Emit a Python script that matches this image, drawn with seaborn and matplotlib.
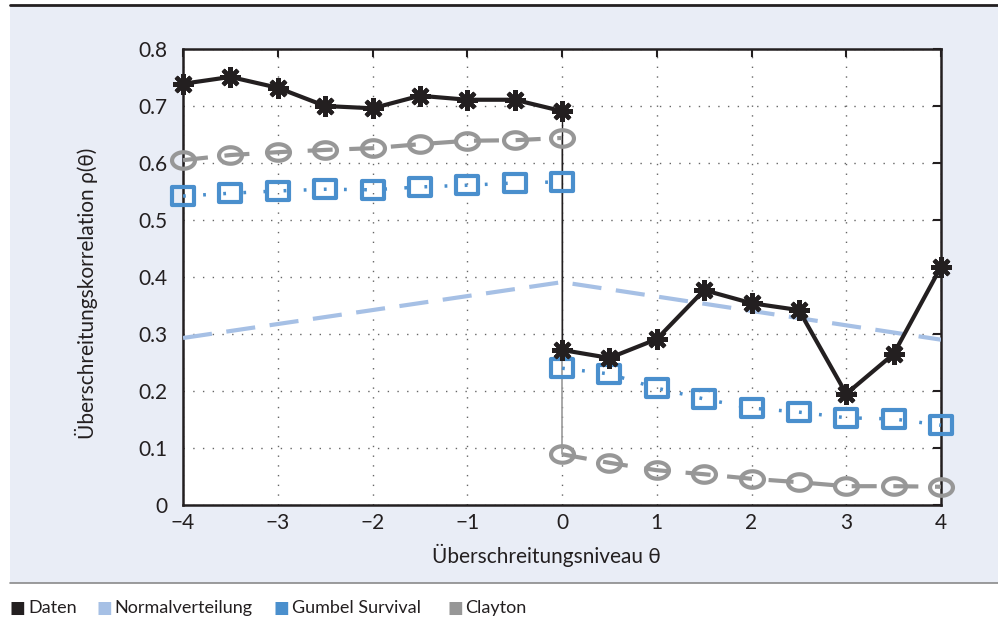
import numpy as np
import pandas as pd
import seaborn as sns
import matplotlib.pyplot as plt
from matplotlib.path import Path
from matplotlib.patches import Rectangle
from matplotlib.lines import Line2D

# threshold levels, left branch (<=0) and right branch (>=0)
theta_left = [-4, -3.5, -3, -2.5, -2, -1.5, -1, -0.5, 0]
theta_right = [0, 0.5, 1, 1.5, 2, 2.5, 3, 3.5, 4]

daten_left = [0.739, 0.751, 0.732, 0.700, 0.696, 0.718, 0.711, 0.711, 0.691]
daten_right = [0.272, 0.258, 0.291, 0.377, 0.354, 0.342, 0.195, 0.265, 0.418]

gumbel_left = [0.542, 0.547, 0.551, 0.554, 0.553, 0.558, 0.561, 0.565, 0.567]
gumbel_right = [0.240, 0.230, 0.205, 0.186, 0.170, 0.163, 0.153, 0.151, 0.140]

clayton_left = [0.605, 0.614, 0.619, 0.623, 0.626, 0.633, 0.639, 0.640, 0.644]
clayton_right = [0.089, 0.074, 0.061, 0.054, 0.046, 0.040, 0.033, 0.033, 0.032]

normal_theta = [-4, 0, 4]
normal_vals = [0.293, 0.391, 0.290]

series_names = ["Daten", "Normalverteilung", "Gumbel Survival", "Clayton"]
colors = {"Daten": "#231f20", "Normalverteilung": "#a6c0e5",
          "Gumbel Survival": "#4a8fcd", "Clayton": "#979797"}

sns.set_style("white")
plt.rcParams['font.family'] = ['Lato', 'DejaVu Sans']

fig = plt.figure(figsize=(9.98, 6.22), dpi=100)

# light panel with rules
fig.patches.append(Rectangle((0.010, 0.0627), 0.99, 0.929, transform=fig.transFigure,
                             facecolor="#e9edf6", edgecolor="none", zorder=-10))
fig.add_artist(Line2D([0.010, 1.0], [0.992, 0.992], transform=fig.transFigure,
                      color="#231f20", lw=2))
fig.add_artist(Line2D([0.010, 1.0], [0.0627, 0.0627], transform=fig.transFigure,
                      color="#8a8a8a", lw=1.2))

ax = fig.add_axes([0.1834, 0.1881, 0.7595, 0.7331])
ax.set_facecolor("white")

# elliptical / rectangular hollow markers
t = np.linspace(0, 2 * np.pi, 60)
ellipse = Path(np.column_stack([np.cos(t), 0.72 * np.sin(t)]), closed=True)
rect = Path([(-1, -0.8), (1, -0.8), (1, 0.8), (-1, 0.8), (-1, -0.8)], closed=True)

# thin vertical jumps at theta = 0
ax.plot([0, 0], [clayton_left[-1], clayton_right[0]], color="#9a9a9a", lw=1.2, zorder=2)
ax.plot([0, 0], [daten_left[-1], daten_right[0]], color="#231f20", lw=1.0, zorder=2)

df_norm = pd.DataFrame({"theta": normal_theta, "rho": normal_vals})
sns.lineplot(data=df_norm, x="theta", y="rho", ax=ax, color=colors["Normalverteilung"],
             lw=3, zorder=3)
ax.lines[-1].set_dashes([7, 3.5])

for th, vals in [(theta_left, clayton_left), (theta_right, clayton_right)]:
    d = pd.DataFrame({"theta": th, "rho": vals})
    sns.lineplot(data=d, x="theta", y="rho", ax=ax, color=colors["Clayton"], lw=3,
                 marker=ellipse, markersize=16.5, markerfacecolor="none",
                 markeredgecolor=colors["Clayton"], markeredgewidth=3, zorder=4,
                 clip_on=False)
    ax.lines[-1].set_dashes([6, 4])

for th, vals in [(theta_left, gumbel_left), (theta_right, gumbel_right)]:
    d = pd.DataFrame({"theta": th, "rho": vals})
    sns.lineplot(data=d, x="theta", y="rho", ax=ax, color=colors["Gumbel Survival"], lw=2.5,
                 marker=rect, markersize=15.5, markerfacecolor="none",
                 markeredgecolor=colors["Gumbel Survival"], markeredgewidth=3, zorder=5,
                 clip_on=False)
    ax.lines[-1].set_dashes([0.8, 5])

for th, vals in [(theta_left, daten_left), (theta_right, daten_right)]:
    d = pd.DataFrame({"theta": th, "rho": vals})
    sns.lineplot(data=d, x="theta", y="rho", ax=ax, color=colors["Daten"], lw=3,
                 marker=(8, 2, 0), markersize=15, markeredgecolor=colors["Daten"],
                 markeredgewidth=3, zorder=6, clip_on=False)

ax.set_xlim(-4, 4)
ax.set_ylim(0, 0.8)
ax.set_xticks(range(-4, 5))
ax.set_xticklabels([str(v).replace("-", "\u2212") for v in range(-4, 5)])
ax.set_yticks(np.arange(0, 0.81, 0.1))
ax.set_yticklabels(["0"] + [f"{v:.1f}" for v in np.arange(0.1, 0.81, 0.1)])
ax.grid(True, color="#666666", linestyle=(0, (1, 6)), lw=1.0)
ax.tick_params(direction="in", length=6, width=1.5, labelsize=15, colors="#231f20",
               right=True, top=True)
ax.tick_params(axis="y", pad=11)
ax.tick_params(axis="x", pad=6)
for s in ax.spines.values():
    s.set_visible(True)
    s.set_color("#231f20")
    s.set_linewidth(1.8)

ax.set_xlabel("Überschreitungsniveau θ", fontsize=15, color="#231f20", va="center")
ax.set_ylabel("Überschreitungskorrelation ρ(θ)", fontsize=15, color="#231f20", va="center")
ax.xaxis.set_label_coords(0.479, -0.110)
ax.yaxis.set_label_coords(-0.127, 0.465)

# legend row below the panel
sq_x = [0.010, 0.097, 0.2745, 0.448]
for name, x0 in zip(series_names, sq_x):
    fig.text(x0, 0.0225, "\u25A0", color=colors[name], fontsize=12, va="center",
             family=['DejaVu Sans'])
    fig.text(x0 + 0.018, 0.0225, name, color="#231f20", fontsize=13, va="center")

fig.savefig("out.png", dpi=100)
